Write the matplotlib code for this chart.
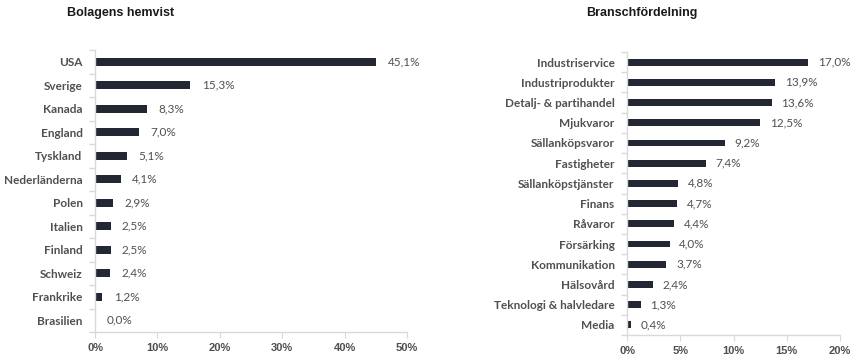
import matplotlib
matplotlib.use("Agg")
import matplotlib.pyplot as plt
from matplotlib.ticker import FixedLocator, PercentFormatter
import numpy as np

countries = ["USA", "Sverige", "Kanada", "England", "Tyskland", "Nederländerna",
             "Polen", "Italien", "Finland", "Schweiz", "Frankrike", "Brasilien"]
country_vals = [45.1, 15.3, 8.3, 7.0, 5.1, 4.1, 2.9, 2.5, 2.5, 2.4, 1.2, 0.0]

sectors = ["Industriservice", "Industriprodukter", "Detalj- & partihandel", "Mjukvaror",
           "Sällanköpsvaror", "Fastigheter", "Sällanköpstjänster", "Finans", "Råvaror",
           "Försärking", "Kommunikation", "Hälsovård", "Teknologi & halvledare", "Media"]
sector_vals = [17.0, 13.9, 13.6, 12.5, 9.2, 7.4, 4.8, 4.7, 4.4, 4.0, 3.7, 2.4, 1.3, 0.4]

left_ticks = [0, 10, 20, 30, 40, 50]
right_ticks = [0, 5, 10, 15, 20]

BAR = "#222733"
LBL = "#505050"
SPINE = "#d9d9d9"

fig = plt.figure(figsize=8.58 * np.array([1, 363 / 858]), dpi=100)

def draw(ax, cats, vals, ticks, title, title_x, off, bh):
    y = np.arange(len(cats))
    ax.barh(y, vals, height=bh, color=BAR)
    ax.set_ylim(len(cats) - 0.5, -0.5)
    ax.set_xlim(ticks[0], ticks[-1])
    ax.set_yticks(y)
    ax.set_yticklabels(cats, family="Lato", fontweight="bold", fontsize=8.5, color=LBL)
    ax.yaxis.set_minor_locator(FixedLocator(np.arange(-0.5, len(cats), 1.0)))
    ax.tick_params(axis="y", which="major", length=0, pad=9)
    ax.tick_params(axis="y", which="minor", length=4, color=SPINE, width=1)
    ax.set_xticks(ticks)
    ax.xaxis.set_major_formatter(PercentFormatter(decimals=0))
    ax.tick_params(axis="x", length=4, color=SPINE, labelsize=8, labelcolor=LBL, pad=4)
    for lab in ax.get_xticklabels():
        lab.set_fontweight("bold")
        lab.set_family("Liberation Sans")
    for s in ["top", "right"]:
        ax.spines[s].set_visible(False)
    for s in ["left", "bottom"]:
        ax.spines[s].set_color(SPINE)
        ax.spines[s].set_linewidth(1)
    for yi, v in zip(y, vals):
        ax.text(v + off, yi, f"{v:.1f}%".replace(".", ","), va="center", ha="left",
                family="Lato", fontsize=8.5, color=LBL)
    fig.text(title_x, 1 - 13 / 363, title, family="Liberation Sans", fontweight="bold",
             fontsize=9, color="#1a1a1a", va="center", ha="left")

ax1 = fig.add_axes([95 / 858, 1 - 332 / 363, 312 / 858, 282 / 363])
draw(ax1, countries, country_vals, left_ticks, "Bolagens hemvist", 67 / 858, 1.8, 0.36)

ax2 = fig.add_axes([627 / 858, 1 - 335 / 363, 213 / 858, 283 / 363])
draw(ax2, sectors, sector_vals, right_ticks, "Branschfördelning", 586 / 858, 0.9, 0.34)

fig.savefig("out.png", dpi=100)
